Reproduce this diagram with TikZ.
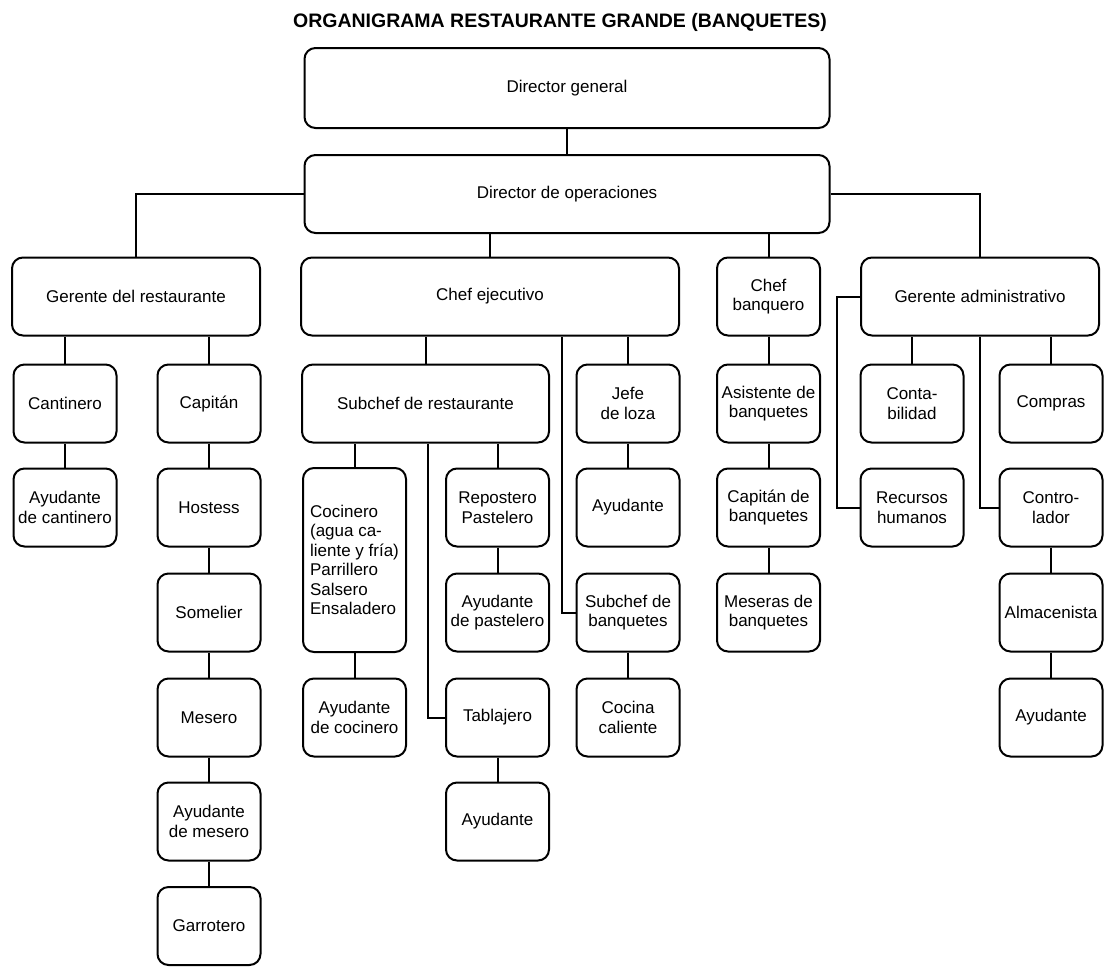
\documentclass[tikz,border=0pt]{standalone}
\usepackage{fontspec}
\setmainfont{Liberation Sans}
\usepackage{tikz}
\usetikzlibrary{calc}

\begin{document}
\begin{tikzpicture}[x=1pt, y=-1pt,
    box style/.style={draw, rounded corners=11pt, line width=2pt, align=center, inner sep=2pt, font=\fontsize{17}{19.5}\selectfont},
    small style/.style={box style, minimum width=103pt, minimum height=78pt},
    wide style/.style={box style, minimum height=78pt},
    link/.style={line width=2pt}
]
\useasboundingbox (0,0) rectangle (1107,967);
\node[font=\bfseries\fontsize{19.5}{22}\selectfont] (title) at (560,22) {ORGANIGRAMA RESTAURANTE GRANDE (BANQUETES)};

\node[wide style, minimum width=525pt, minimum height=80pt] (dg) at (567,88) {Director general};
\node[wide style, minimum width=525pt] (dop) at (567,194) {Director de operaciones};

\node[wide style, minimum width=248pt] (gr) at (136,296.5) {Gerente del restaurante};
\node[wide style, minimum width=378pt] (ce) at (490,296.5) {Chef ejecutivo};
\node[small style] (cb) at (768.5,296.5) {Chef\\banquero};
\node[wide style, minimum width=238pt] (ga) at (980,296.5) {Gerente administrativo};

\node[small style] (can) at (65,403.5) {Cantinero};
\node[small style] (cap) at (209,403.5) {Capitán};
\node[wide style, minimum width=247pt] (sr) at (425.5,403.5) {Subchef de restaurante};
\node[small style] (jl) at (628,403.5) {Jefe\\de loza};
\node[small style] (ab) at (768.5,403.5) {Asistente de\\banquetes};
\node[small style] (cont) at (912,403.5) {Conta-\\bilidad};
\node[small style] (comp) at (1051,403.5) {Compras};

\node[small style] (ac) at (65,507.5) {Ayudante\\de cantinero};
\node[small style] (hos) at (209,507.5) {Hostess};
\node[small style, minimum height=184pt, align=left] (coc) at (354.5,560) {Cocinero\\(agua ca-\\liente y fría)\\Parrillero\\Salsero\\Ensaladero};
\node[small style] (rep) at (497.5,507.5) {Repostero\\Pastelero};
\node[small style] (ayl) at (628,507.5) {Ayudante};
\node[small style] (capb) at (768.5,507.5) {Capitán de\\banquetes};
\node[small style] (rh) at (912,507.5) {Recursos\\humanos};
\node[small style] (ctr) at (1051,507.5) {Contro-\\lador};

\node[small style] (som) at (209,612.5) {Somelier};
\node[small style] (ayp) at (497.5,612.5) {Ayudante\\de pastelero};
\node[small style] (sb) at (628,612.5) {Subchef de\\banquetes};
\node[small style] (mb) at (768.5,612.5) {Meseras de\\banquetes};
\node[small style] (alm) at (1051,612.5) {Almacenista};

\node[small style] (mes) at (209,717.5) {Mesero};
\node[small style] (ayc) at (354.5,717.5) {Ayudante\\de cocinero};
\node[small style] (tab) at (497.5,717.5) {Tablajero};
\node[small style] (cc) at (628,717.5) {Cocina\\caliente};
\node[small style] (aya) at (1051,717.5) {Ayudante};

\node[small style] (aym) at (209,821.5) {Ayudante\\de mesero};
\node[small style] (ayt) at (497.5,821.5) {Ayudante};

\node[small style] (gar) at (209,926) {Garrotero};

\coordinate (sbk) at ([xshift=-14pt]sb.west);
\coordinate (tbk) at ([xshift=-17pt]tab.west);
\coordinate (ctk) at ([xshift=-19pt]ctr.west);

\draw[link] (dg) -- (dop);
\draw[link] (dop.west) -| (gr.north);
\draw[link] (dop.east) -| (ga.north);
\draw[link] (ce.north) -- (ce.north |- dop.south);
\draw[link] (cb.north) -- (cb.north |- dop.south);

\draw[link] (can.north) -- (can.north |- gr.south);
\draw[link] (cap.north) -- (cap.north |- gr.south);
\draw[link] (can) -- (ac);
\draw[link] (cap) -- (hos);
\draw[link] (hos) -- (som);
\draw[link] (som) -- (mes);
\draw[link] (mes) -- (aym);
\draw[link] (aym) -- (gar);

\draw[link] (sr.north) -- (sr.north |- ce.south);
\draw[link] (jl.north) -- (jl.north |- ce.south);
\draw[link] (sb.west) -| (sbk |- ce.south);
\draw[link] (coc.north) -- (coc.north |- sr.south);
\draw[link] (rep.north) -- (rep.north |- sr.south);
\draw[link] (tab.west) -| (tbk |- sr.south);
\draw[link] (coc) -- (ayc);
\draw[link] (rep) -- (ayp);
\draw[link] (tab) -- (ayt);
\draw[link] (jl) -- (ayl);
\draw[link] (sb) -- (cc);

\draw[link] (cb) -- (ab);
\draw[link] (ab) -- (capb);
\draw[link] (capb) -- (mb);

\draw[link] (ga.west) -- ++(-23,0) |- (rh.west);
\draw[link] (cont.north) -- (cont.north |- ga.south);
\draw[link] (comp.north) -- (comp.north |- ga.south);
\draw[link] (ctr.west) -| (ctk |- ga.south);
\draw[link] (ctr) -- (alm);
\draw[link] (alm) -- (aya);
\end{tikzpicture}
\end{document}
